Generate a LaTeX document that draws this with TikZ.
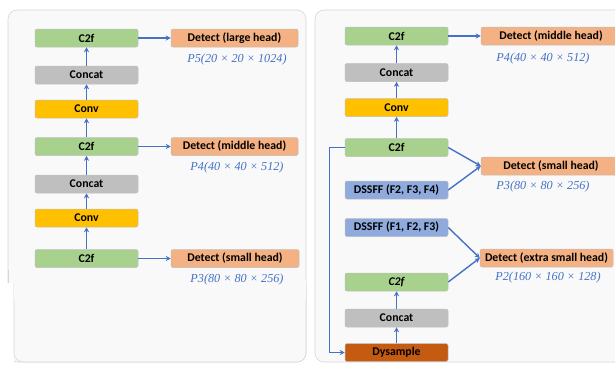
\documentclass[tikz,border=0pt]{standalone}
\usepackage{fontspec}
\setmainfont{Liberation Serif}
\newfontfamily\boxfont{Carlito}
\usetikzlibrary{arrows.meta}
\definecolor{panelbg}{HTML}{F9F9F9}
\definecolor{panelline}{HTML}{D6D6D6}
\definecolor{cgreen}{HTML}{A9D18E}
\definecolor{cgray}{HTML}{BFBFBF}
\definecolor{cyellow}{HTML}{FFC000}
\definecolor{corange}{HTML}{F4B183}
\definecolor{cblue}{HTML}{8FAADC}
\definecolor{cbrown}{HTML}{C55A11}
\definecolor{arrowblue}{HTML}{4472C4}
\tikzset{
  blk/.style={draw=black!25, line width=0.5pt, rounded corners=2pt, minimum height=18pt, inner sep=0pt, font=\boxfont\bfseries\fontsize{11.8}{13}\selectfont, text=black},
  mod/.style={blk, minimum width=103pt},
  green/.style={fill=cgreen},
  grayb/.style={fill=cgray},
  yell/.style={fill=cyellow},
  det/.style={blk, fill=corange},
  dss/.style={mod, fill=cblue},
  dys/.style={mod, fill=cbrown},
  lab/.style={font=\itshape\fontsize{12.2}{14}\selectfont, text=arrowblue, inner sep=0pt},
  arr/.style={draw=arrowblue, line width=1.4pt, -{Stealth[length=5pt,width=5pt]}},
  panel/.style={fill=panelbg, draw=panelline, line width=0.6pt, rounded corners=9pt}
}
\begin{document}
\begin{tikzpicture}[x=1pt,y=-1pt]
\useasboundingbox[fill=white] (0,0) rectangle (615,365);
% panels
\draw[panel] (8,10) rectangle (306,362);
\fill[white] (0,283) rectangle (14,365);
\draw[panelline, line width=0.6pt] (8,270) -- (8,283);
\draw[panel, fill=panelbg] (14,283) -- (14,362) -- (306,362) -- (306,283);
\fill[panelbg] (14.4,280) rectangle (305.6,300);
\draw[panel] (315,10) rectangle (640,362);
% left column
\node[mod, green] (L1) at (86.5,38) {C2f};
\node[mod, grayb] (L2) at (86.5,75) {Concat};
\node[mod, yell]  (L3) at (86.5,109) {Conv};
\node[mod, green] (L4) at (86.5,146.5) {C2f};
\node[mod, grayb] (L5) at (86.5,184) {Concat};
\node[mod, yell]  (L6) at (86.5,218) {Conv};
\node[mod, green] (L7) at (86.5,258.5) {C2f};
\node[det, minimum width=127pt] (D1) at (234.5,38) {Detect (large head)};
\node[det, minimum width=127pt] (D2) at (234.5,146.5) {Detect (middle head)};
\node[det, minimum width=128pt] (D3) at (235,258.5) {Detect (small head)};
\node[lab] (P5) at (237,60) {P5(20 × 20 × 1024)};
\node[lab] (P4) at (237,168) {P4(40 × 40 × 512)};
\node[lab] (P3) at (237,280) {P3(80 × 80 × 256)};
\draw[arr] (L7) -- (L6);
\draw[arr] (L6) -- (L5);
\draw[arr] (L5) -- (L4);
\draw[arr] (L4) -- (L3);
\draw[arr] (L3) -- (L2);
\draw[arr] (L2) -- (L1);
\draw[arr] (L1) -- (D1);
\draw[arr] (L4) -- (D2);
\draw[arr] (L7) -- (D3);
% right column
\node[mod, green] (R1) at (396.5,36) {C2f};
\node[mod, grayb] (R2) at (396.5,72.5) {Concat};
\node[mod, yell]  (R3) at (396.5,107.5) {Conv};
\node[mod, green] (R4) at (396.5,147.5) {C2f};
\node[dss] (R5) at (396.5,190) {DSSFF (F2, F3, F4)};
\node[dss] (R6) at (396.5,227.5) {DSSFF (F1, F2, F3)};
\node[mod, green] (R7) at (396.5,282) {\itshape C2f};
\node[mod, grayb] (R8) at (396.5,318) {Concat};
\node[dys] (R9) at (396.5,352.5) {Dysample};
\node[det, minimum width=140pt] (E1) at (551,36) {Detect (middle head)};
\node[det, minimum width=140pt] (E2) at (551,166) {Detect (small head)};
\node[det, minimum width=133pt] (E3) at (546.5,258) {Detect (extra small head)};
\node[lab] (Q4) at (543,59) {P4(40 × 40 × 512)};
\node[lab] (Q3) at (543,187) {P3(80 × 80 × 256)};
\node[lab] (Q2) at (548,278) {P2(160 × 160 × 128)};
\draw[arr] (R9) -- (R8);
\draw[arr] (R8) -- (R7);
\draw[arr] (R4) -- (R3);
\draw[arr] (R3) -- (R2);
\draw[arr] (R2) -- (R1);
\draw[arr] (R1) -- (E1);
\draw[arr] (R4.east) -- (E2.west);
\draw[arr] (R5.east) -- (E2.west);
\draw[arr] (R6.east) -- (E3.west);
\draw[arr] (R7.east) -- (E3.west);
\draw[arr] (R4.west) -- ++(-15,0) |- (R9.west);
\end{tikzpicture}
\end{document}
